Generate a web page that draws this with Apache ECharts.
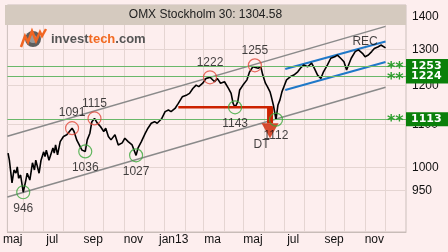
<!DOCTYPE html>
<html><head><meta charset="utf-8">
<script src="https://cdn.jsdelivr.net/npm/echarts@6/dist/echarts.min.js"></script>
<style>html,body{margin:0;padding:0;background:#fdeeee}#c{width:448px;height:252px}</style>
</head><body><div id="c"></div>
<script>
const titleText = 'OMX Stockholm 30: 1304.58';
const priceDates = ['2012-05-09','2012-05-11','2012-05-15','2012-05-18','2012-05-21','2012-05-23','2012-05-25','2012-05-28','2012-06-01','2012-06-05','2012-06-07','2012-06-11','2012-06-15','2012-06-18','2012-06-20','2012-06-25','2012-06-28','2012-07-02','2012-07-04','2012-07-06','2012-07-10','2012-07-16','2012-07-18','2012-07-20','2012-07-23','2012-07-27','2012-08-01','2012-08-06','2012-08-10','2012-08-14','2012-08-17','2012-08-21','2012-08-24','2012-08-29','2012-09-03','2012-09-06','2012-09-10','2012-09-13','2012-09-17','2012-09-21','2012-09-26','2012-10-01','2012-10-04','2012-10-08','2012-10-12','2012-10-18','2012-10-23','2012-10-29','2012-11-02','2012-11-07','2012-11-13','2012-11-19','2012-11-22','2012-11-27','2012-12-03','2012-12-07','2012-12-12','2012-12-17','2012-12-21','2012-12-28','2013-01-02','2013-01-07','2013-01-11','2013-01-17','2013-01-22','2013-01-28','2013-02-04','2013-02-08','2013-02-13','2013-02-18','2013-02-22','2013-02-28','2013-03-05','2013-03-11','2013-03-14','2013-03-18','2013-03-22','2013-03-27','2013-04-02','2013-04-08','2013-04-12','2013-04-15','2013-04-18','2013-04-22','2013-04-25','2013-04-30','2013-05-06','2013-05-10','2013-05-15','2013-05-18','2013-05-23','2013-05-27','2013-05-30','2013-06-03','2013-06-06','2013-06-10','2013-06-12','2013-06-15','2013-06-19','2013-06-22','2013-06-25','2013-06-28','2013-07-02','2013-07-05','2013-07-11','2013-07-16','2013-07-22','2013-07-26','2013-07-31','2013-08-06','2013-08-12','2013-08-16','2013-08-21','2013-08-26','2013-08-30','2013-09-05','2013-09-10','2013-09-16','2013-09-20','2013-09-25','2013-09-30','2013-10-04','2013-10-08','2013-10-11','2013-10-17','2013-10-22','2013-10-28','2013-11-01','2013-11-06','2013-11-11','2013-11-15','2013-11-21','2013-11-25','2013-11-28','2013-12-02'];
const priceValues = [1032,1016,966,994,987,1001,976,983,946,972,987,972,1010,994,1016,987,1016,1035,1024,1039,1016,1044,1032,1051,1028,1059,1071,1075,1083,1091,1083,1063,1059,1039,1036,1063,1079,1107,1115,1104,1095,1083,1091,1071,1063,1075,1051,1056,1067,1059,1051,1027,1044,1059,1079,1091,1103,1107,1103,1115,1132,1136,1132,1140,1153,1170,1175,1179,1192,1201,1197,1206,1219,1222,1219,1210,1219,1206,1210,1192,1179,1153,1143,1157,1188,1201,1215,1237,1251,1255,1247,1251,1228,1206,1197,1183,1170,1149,1112,1149,1162,1183,1201,1215,1224,1228,1237,1247,1256,1251,1261,1247,1228,1219,1237,1256,1275,1279,1284,1275,1265,1242,1261,1275,1294,1299,1289,1279,1284,1294,1303,1308,1313,1308,1304.58];

const peakDates = ['2012-08-14','2012-09-17','2013-03-11','2013-05-18'];
const peakValues = [1091,1115,1222,1255];
const troughDates = ['2012-06-01','2012-09-03','2012-11-19','2013-04-18','2013-06-19'];
const troughValues = [946,1036,1027,1143,1112];

const levelValues = [1253,1224,1113];

const upperTrendDates = ['2012-05-08','2013-12-02'];
const upperTrendValues = [1071.7,1368.7];
const lowerTrendDates = ['2012-05-08','2013-12-02'];
const lowerTrendValues = [936.0,1195.3];
const channelTopDates = ['2013-07-03','2013-12-02'];
const channelTopValues = [1244.7,1323.4];
const channelBotDates = ['2013-07-03','2013-12-02'];
const channelBotValues = [1187.9,1264.3];

const dtLineDates = ['2013-01-22','2013-06-14'];
const dtLineValues = [1143,1143];
const dtShaftDates = ['2013-06-10','2013-06-10'];
const dtShaftValues = [1143,1103];
const dtHeadDate = '2013-06-10';
const dtHeadValue = 1084.7;

const noteTexts = ['REC','DT'];
const noteDates = ['2013-11-01','2013-05-28'];
const noteValues = [1324.3,1050.9];

const yTickValues = [950,1000,1100,1200,1300,1400];
const monthStarts = ['2012-06-01','2012-07-01','2012-08-01','2012-09-01','2012-10-01','2012-11-01','2012-12-01','2013-01-01','2013-02-01','2013-03-01','2013-04-01','2013-05-01','2013-06-01','2013-07-01','2013-08-01','2013-09-01','2013-10-01','2013-11-01','2013-12-01'];
const xLabelDates = ['2012-05-16','2012-07-15','2012-09-15','2012-11-15','2013-01-15','2013-03-15','2013-05-15','2013-07-15','2013-09-15','2013-11-15'];
const xLabelNames = ['maj','jul','sep','nov','jan13','ma','maj','jul','sep','nov'];
const xMinDate = '2012-05-08';
const xMaxDate = '2014-01-02';

const T = s => { const p = s.split('-').map(Number); return Date.UTC(p[0], p[1] - 1, p[2]); };
const zip = (a, b) => a.map((d, i) => [T(d), b[i]]);
const labelTimes = xLabelDates.map(T);
function xFmt(v) {
  let best = 0, bd = Infinity;
  labelTimes.forEach((t, i) => { const dd = Math.abs(t - v); if (dd < bd) { bd = dd; best = i; } });
  return xLabelNames[best];
}

const FONT = 'Liberation Sans';
const chart = echarts.init(document.getElementById('c'), null, {renderer: 'canvas'});
const trend = (name, d, v, color, w) => ({
  name, type: 'line', data: zip(d, v), symbol: 'none', silent: true,
  lineStyle: {color, width: w}, z: 3
});
chart.setOption({
  animation: false,
  backgroundColor: '#fdeeee',
  textStyle: {fontFamily: FONT},
  grid: {left: 5, right: 42, top: 5, bottom: 20, show: true, borderColor: '#cbbfbb', borderWidth: 1, backgroundColor: 'transparent'},
  xAxis: {
    type: 'value', min: T(xMinDate), max: T(xMaxDate),
    axisLine: {show: true, lineStyle: {color: '#c8bcb8'}},
    axisTick: {show: false, customValues: monthStarts.map(T)},
    axisLabel: {customValues: labelTimes, formatter: xFmt, color: '#111', fontSize: 12, margin: 2, fontFamily: FONT},
    splitLine: {show: true, lineStyle: {color: '#e5d5d2', width: 1}}
  },
  yAxis: {
    type: 'log', position: 'right', min: 865.8, max: 1435.5,
    axisLine: {show: false},
    axisTick: {show: false, customValues: yTickValues},
    axisLabel: {customValues: yTickValues, formatter: v => String(Math.round(v)), color: '#111', fontSize: 12, margin: 6, fontFamily: FONT},
    splitLine: {show: true, lineStyle: {color: '#e5d5d2', width: 1}}
  },
  series: [
    trend('upper', upperTrendDates, upperTrendValues, '#8a8a8a', 1.5),
    trend('lower', lowerTrendDates, lowerTrendValues, '#8a8a8a', 1.5),
    trend('chTop', channelTopDates, channelTopValues, '#1f78c8', 2),
    trend('chBot', channelBotDates, channelBotValues, '#1f78c8', 2),
    {
      name: 'price', type: 'line', data: zip(priceDates, priceValues), symbol: 'none',
      lineStyle: {color: '#000', width: 1.6}, z: 4, silent: true,
      markLine: {
        silent: true, symbol: ['none', 'none'], animation: false,
        lineStyle: {color: '#6ab86a', width: 1, type: 'solid'},
        label: {
          show: true, position: 'end', distance: -19,
          formatter: p => '{s|**}{b|' + p.value + '}',
          rich: {
            s: {color: '#2e9e2e', fontFamily: 'DejaVu Sans', fontWeight: 'bold', fontSize: 16, width: 19, height: 14, lineHeight: 14, padding: [6, 0, 0, 0]},
            b: {backgroundColor: '#0a800a', color: '#fff', fontFamily: 'DejaVu Sans', fontWeight: 'bold', fontSize: 11, width: 37, height: 14, lineHeight: 14, padding: [0, 0, 0, 5]}
          }
        },
        data: levelValues.map(v => ({yAxis: v}))
      }
    },
    {
      name: 'dtline', type: 'line', data: zip(dtLineDates, dtLineValues), symbol: 'none', silent: true,
      lineStyle: {color: '#cc2200', width: 2.5}, z: 5
    },
    {
      name: 'dtshaft', type: 'line', data: zip(dtShaftDates, dtShaftValues), symbol: 'none', silent: true,
      lineStyle: {color: '#cc2200', width: 6, cap: 'butt'}, z: 5
    },
    {
      name: 'dthead', type: 'scatter', data: [[T(dtHeadDate), dtHeadValue]], symbol: 'triangle', symbolRotate: 180,
      symbolSize: [17, 15], itemStyle: {color: '#cc2200'}, silent: true, z: 5
    },
    {
      name: 'peaks', type: 'scatter', data: zip(peakDates, peakValues), symbol: 'circle', symbolSize: 13, silent: true, z: 6,
      itemStyle: {color: 'rgba(0,0,0,0)', borderColor: '#e0483a', borderWidth: 1.2},
      label: {show: true, position: 'top', distance: 2, color: '#111', fontSize: 12, fontFamily: FONT, formatter: p => p.value[1]}
    },
    {
      name: 'troughs', type: 'scatter', data: zip(troughDates, troughValues), symbol: 'circle', symbolSize: 13, silent: true, z: 6,
      itemStyle: {color: 'rgba(0,0,0,0)', borderColor: '#3aa83a', borderWidth: 1.2},
      label: {show: true, position: 'bottom', distance: 3, color: '#111', fontSize: 12, fontFamily: FONT, formatter: p => p.value[1]}
    },
    {
      name: 'notes', type: 'scatter', data: noteDates.map((d, i) => ({value: [T(d), noteValues[i]], name: noteTexts[i]})),
      symbolSize: 0, silent: true, z: 7,
      label: {show: true, position: 'inside', color: '#111', fontSize: 12, fontFamily: FONT, formatter: p => p.name}
    }
  ],
  graphic: [
    {type: 'rect', shape: {x: 5, y: 5, width: 401, height: 20}, style: {fill: '#d5cabf'}, z: 100},
    {type: 'text', x: 205.5, y: 15, style: {text: titleText, font: '12px "Liberation Sans"', fill: '#222', textAlign: 'center', textVerticalAlign: 'middle'}, z: 101},
    {type: 'circle', shape: {cx: 33, cy: 39, r: 8}, style: {fill: '#5e5e5e'}, z: 100},
    {type: 'circle', shape: {cx: 33, cy: 39, r: 4}, style: {fill: '#9a9a9a'}, z: 100},
    {type: 'polyline', shape: {points: [[21, 47], [25, 36], [28, 42], [32, 31], [36, 41], [40, 32], [42, 36], [46, 29]]}, style: {stroke: '#f26522', lineWidth: 2.5, fill: null}, z: 101},
    {type: 'text', x: 51, y: 39, style: {text: '{a|invest}{b|tech}{a|.com}', rich: {a: {fill: '#555', font: 'bold 13px "Liberation Sans"'}, b: {fill: '#f26a22', font: 'bold 13px "Liberation Sans"'}}, textVerticalAlign: 'middle'}, z: 101}
  ]
});
</script></body></html>
